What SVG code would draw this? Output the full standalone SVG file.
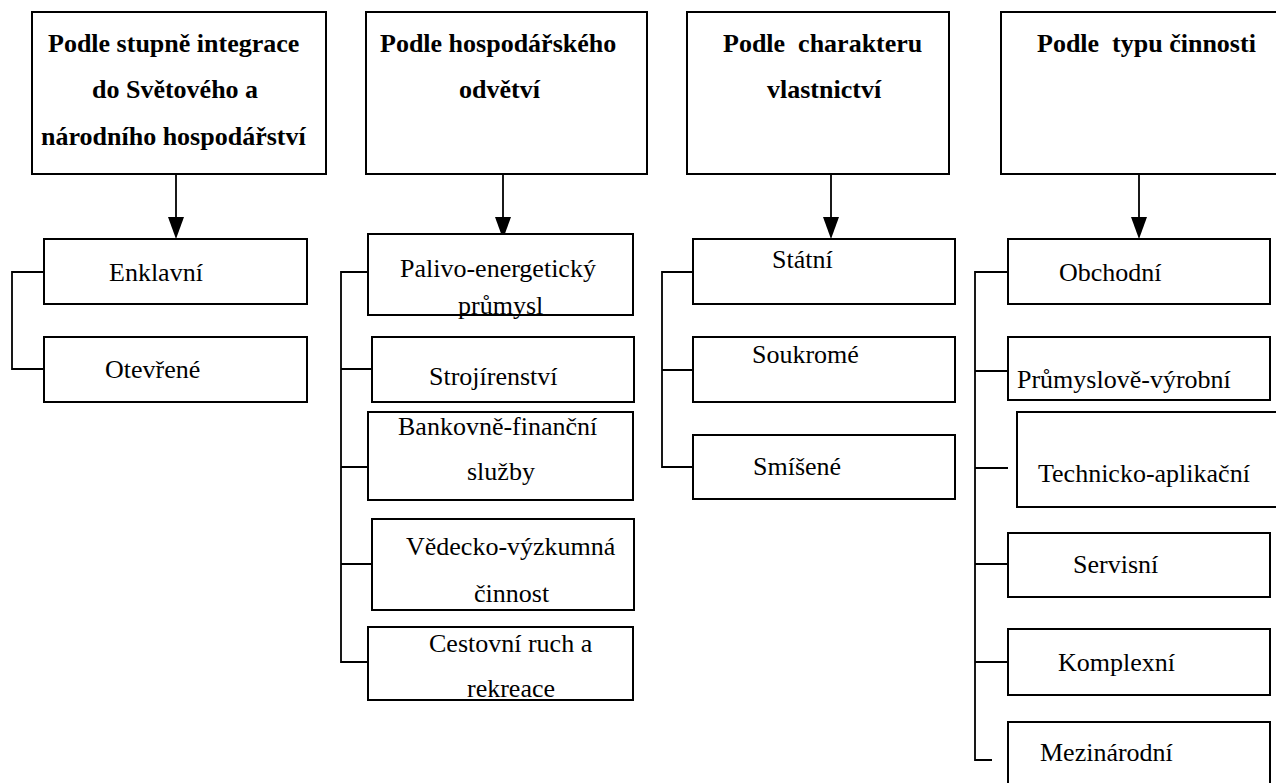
<svg xmlns="http://www.w3.org/2000/svg" width="1276" height="783" viewBox="0 0 1276 783">
<style>
rect{fill:#fff;stroke:#000;stroke-width:2}
text{font-family:"Liberation Serif","Times New Roman",serif;font-size:26px;fill:#000;white-space:pre}
.h{font-weight:bold}
.c{fill:none;stroke:#000;stroke-width:1.8}
</style>
<defs>
<marker id="ah" markerWidth="16" markerHeight="22" refX="8" refY="22" orient="auto-start-reverse" markerUnits="userSpaceOnUse" viewBox="0 0 16 22">
<path d="M0,0 L16,0 L8,22 Z" fill="#000" transform="rotate(0)"/>
</marker>
</defs>
<g id="connectors">
<path class="c" d="M176,174 V217"/>
<path d="M168,217 L184,217 L176,239 Z" fill="#000"/>
<path class="c" d="M503,174 V217"/>
<path d="M495,217 L511,217 L503,239 Z" fill="#000"/>
<path class="c" d="M831,174 V217"/>
<path d="M823,217 L839,217 L831,239 Z" fill="#000"/>
<path class="c" d="M1139,174 V217"/>
<path d="M1131,217 L1147,217 L1139,239 Z" fill="#000"/>
<path class="c" d="M44,272 H12 V369 H44"/>
<path class="c" d="M373,272 H341 V662 H373 M341,369 H373 M341,467 H373 M341,564 H373"/>
<path class="c" d="M693,272 H662 V467 H693 M662,370 H693"/>
<path class="c" d="M1008,272 H975 V760 H992 M975,371 H1008 M975,468 H1008 M975,564 H1008 M975,662 H1008"/>
</g>
<g id="h1"><rect x="32" y="12" width="294" height="162"/>
<text class="h" x="48" y="52">Podle stupně integrace</text>
<text class="h" x="92" y="98">do Světového a</text>
<text class="h" x="41" y="145">národního hospodářství</text></g>
<g id="n-enklavni"><rect x="44" y="239" width="263" height="65"/><text x="109" y="281">Enklavní</text></g>
<g id="n-otevrene"><rect x="44" y="337" width="263" height="65"/><text x="105" y="378">Otevřené</text></g>

<g id="h2"><rect x="366" y="12" width="281" height="162"/>
<text class="h" x="380" y="52">Podle hospodářského</text>
<text class="h" x="459" y="98">odvětví</text></g>
<g id="n-palivo"><rect x="368" y="234" width="265" height="81"/><text x="400" y="277">Palivo-energetický</text><text x="458" y="314">průmysl</text></g>
<g id="n-stroj"><rect x="372" y="337" width="262" height="65"/><text x="429" y="385">Strojírenství</text></g>
<g id="n-bank"><rect x="368" y="412" width="265" height="88"/><text x="398" y="435">Bankovně-finanční</text><text x="467" y="480">služby</text></g>
<g id="n-vedecko"><rect x="372" y="519" width="262" height="91"/><text x="406" y="555">Vědecko-výzkumná</text><text x="474" y="602">činnost</text></g>
<g id="n-cestovni"><rect x="368" y="627" width="265" height="73"/><text x="429" y="652">Cestovní ruch a</text><text x="467" y="697">rekreace</text></g>

<g id="h3"><rect x="687" y="12" width="262" height="162"/>
<text class="h" x="723" y="52">Podle  charakteru</text>
<text class="h" x="767" y="98">vlastnictví</text></g>
<g id="n-statni"><rect x="693" y="239" width="262" height="65"/><text x="772" y="268">Státní</text></g>
<g id="n-soukrome"><rect x="693" y="337" width="262" height="65"/><text x="752" y="363">Soukromé</text></g>
<g id="n-smisene"><rect x="693" y="435" width="262" height="64"/><text x="753" y="475">Smíšené</text></g>

<g id="h4"><rect x="1001" y="12" width="290" height="162"/>
<text class="h" x="1037" y="52">Podle  typu činnosti</text></g>
<g id="n-obchodni"><rect x="1008" y="239" width="262" height="65"/><text x="1059" y="281">Obchodní</text></g>
<g id="n-prumysl"><rect x="1008" y="337" width="262" height="63"/><text x="1017" y="388">Průmyslově-výrobní</text></g>
<g id="n-technicko"><rect x="1017" y="412" width="280" height="95"/><text x="1038" y="482">Technicko-aplikační</text></g>
<g id="n-servisni"><rect x="1008" y="533" width="262" height="64"/><text x="1073" y="573">Servisní</text></g>
<g id="n-komplexni"><rect x="1008" y="629" width="262" height="66"/><text x="1058" y="671">Komplexní</text></g>
<g id="n-mezinarodni"><rect x="1008" y="722" width="262" height="80"/><text x="1040" y="761">Mezinárodní</text></g>
</svg>
